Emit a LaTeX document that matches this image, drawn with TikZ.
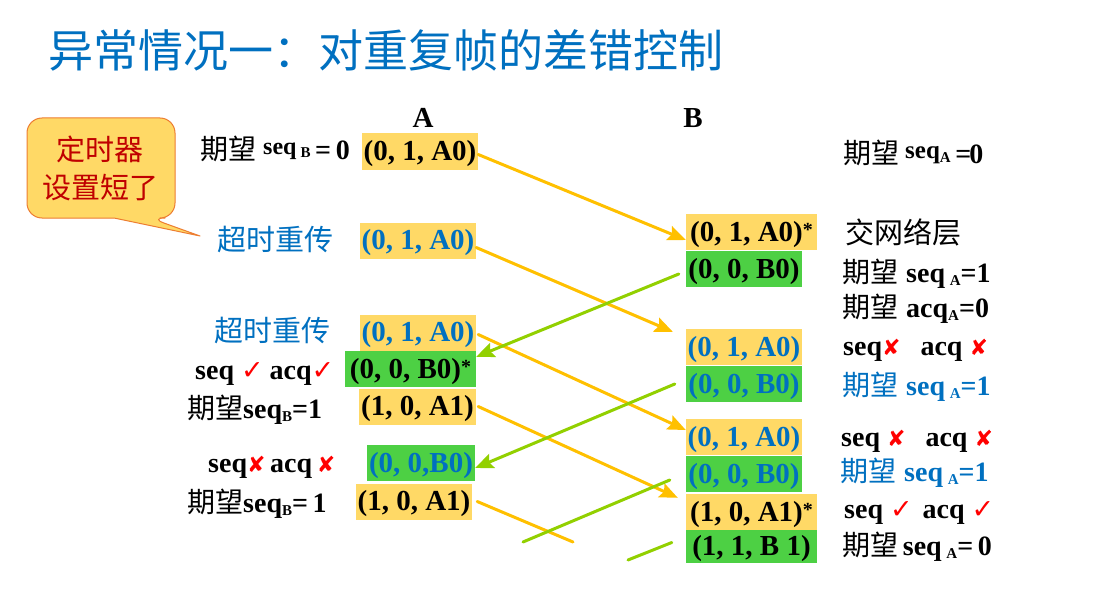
\documentclass[tikz,border=0pt]{standalone}
\usepackage{fontspec}
\setmainfont{Liberation Serif}
\newfontfamily\cjk{Noto Sans CJK SC}
\newfontfamily\sym{DejaVu Sans}
\usetikzlibrary{arrows.meta}
\definecolor{frameyel}{RGB}{255,217,102}
\definecolor{framegrn}{RGB}{77,208,68}
\definecolor{arryel}{RGB}{255,192,0}
\definecolor{arrgrn}{RGB}{146,208,0}
\definecolor{txtblue}{RGB}{0,112,192}
\definecolor{tickred}{RGB}{255,0,0}
\definecolor{noteborder}{RGB}{237,125,49}
\definecolor{notetext}{RGB}{192,0,0}
\newcommand{\qw}{{\cjk\mdseries\fontsize{28}{28}\selectfont 期望}}
\newcommand{\subl}[1]{\raisebox{-0.3ex}{\fontsize{15}{15}\selectfont #1}}
\newcommand{\okmark}{{\sym\mdseries\fontsize{27}{27}\selectfont\color{tickred}✓}}
\newcommand{\nomark}{{\sym\mdseries\fontsize{22}{22}\selectfont\color{tickred}✘}}
\newcommand{\astr}{\raisebox{0.15em}{\fontsize{20}{20}\selectfont *}}
\tikzset{
  frm/.style={inner sep=1pt, text height=26pt, text depth=8pt, minimum width=116pt, font=\fontsize{29}{29}\selectfont\bfseries},
  frmA/.style={frm, fill=frameyel},
  frmB/.style={frm, fill=framegrn},
  lbl/.style={anchor=west, inner sep=0pt, text height=20pt, text depth=0pt, font=\fontsize{28}{28}\selectfont\bfseries},
  cjklbl/.style={anchor=west, inner sep=0pt, text height=21pt, text depth=0pt, font=\cjk\fontsize{29}{29}\selectfont},
  msgA/.style={->, arryel, line width=3pt},
  msgB/.style={->, arrgrn, line width=3pt}
}
\begin{document}
\begin{tikzpicture}[x=1pt,y=-1pt,line cap=round,line join=round,>={Stealth[length=18pt,width=15pt,inset=3pt]}]
  \fill[white] (0,0) rectangle (1100,591);
  \useasboundingbox (0,0) rectangle (1100,591);
  % title
  \node[anchor=west, inner sep=0pt, text=txtblue, font=\cjk\fontsize{45}{45}\selectfont] (title) at (48,50) {异常情况一：对重复帧的差错控制};
  % stations
  \node[font=\fontsize{29}{29}\selectfont\bfseries] (stA) at (423,118) {A};
  \node[font=\fontsize{29}{29}\selectfont\bfseries] (stB) at (693,118) {B};
  % callout
  \draw[fill=frameyel, draw=noteborder, line width=1pt] (27,168) [rounded corners=15pt] |- (175,118) [rounded corners=15pt] |- (150,218) [sharp corners] -- (200,236) -- (114,218) [rounded corners=15pt] -| cycle;
  \node[align=center, text=notetext, font=\cjk\fontsize{29}{38}\selectfont] (note) at (100,168) {定时器\\设置短了};
  % frames at A
  \node[frmA] (a1) at (420,151.5) {(0, 1, A0)};
  \node[frmA, text=txtblue] (a2) at (418,240.5) {(0, 1, A0)};
  \node[frmA, text=txtblue] (a3) at (418,332.5) {(0, 1, A0)};
  \node[frmB, minimum width=131pt] (a4) at (410.5,369) {(0, 0, B0)\astr};
  \node[frmA, minimum width=117pt] (a5) at (417.5,406.5) {(1, 0, A1)};
  \node[frmB, text=txtblue, minimum width=108pt] (a6) at (421,463) {(0, 0,B0)};
  \node[frmA] (a7) at (414,501.5) {(1, 0, A1)};
  % frames at B
  \node[frmA, minimum width=131pt] (b1) at (751.5,232) {(0, 1, A0)\astr};
  \node[frmB] (b2) at (744,269) {(0, 0, B0)};
  \node[frmA, text=txtblue] (b3) at (744,347) {(0, 1, A0)};
  \node[frmB, text=txtblue] (b4) at (744,384) {(0, 0, B0)};
  \node[frmA, text=txtblue] (b5) at (744,437) {(0, 1, A0)};
  \node[frmB, text=txtblue] (b6) at (744,474) {(0, 0, B0)};
  \node[frmA, minimum width=131pt] (b7) at (751.5,512) {(1, 0, A1)\astr};
  \node[frmB, minimum width=131pt, text height=24pt, text depth=7pt] (b8) at (751.5,546.5) {(1, 1, B 1)};
  % labels at A
  \node[lbl] (la1) at (200,150) {\qw\hspace{7pt}\raisebox{0.2em}{\fontsize{24}{24}\selectfont seq\,\subl{B}}\,=\,0};
  \node[cjklbl, text=txtblue] (la2) at (217,240) {超时重传};
  \node[cjklbl, text=txtblue] (la3) at (214,331) {超时重传};
  \node[lbl] (la4) at (195,369) {seq \okmark\hspace{6pt}acq\okmark};
  \node[lbl] (la5) at (187,408) {\qw seq\subl{B}=1};
  \node[lbl] (la6) at (208,462) {seq\nomark\,acq\,\nomark};
  \node[lbl] (la7) at (187,502) {\qw seq\subl{B}=\,1};
  % labels at B
  \node[lbl] (lb1) at (843,153) {\qw\hspace{6pt}\raisebox{0.15em}{\fontsize{25}{25}\selectfont seq\subl{A}}\,=\kern-2pt0};
  \node[cjklbl] (lb2) at (845,233) {交网络层};
  \node[lbl] (lb3) at (842,272) {\qw\hspace{8pt}seq\,\subl{A}=1};
  \node[lbl] (lb4) at (842,307) {\qw\hspace{8pt}acq\subl{A}=0};
  \node[lbl] (lb5) at (843,345) {seq\nomark\hspace{20pt}acq \nomark};
  \node[lbl, text=txtblue] (lb6) at (842,385) {{\color{txtblue}\qw}\hspace{8pt}seq\,\subl{A}=1};
  \node[lbl] (lb7) at (841,436) {seq \nomark\hspace{20pt}acq \nomark};
  \node[lbl, text=txtblue] (lb8) at (840,471) {{\color{txtblue}\qw}\hspace{8pt}seq\,\subl{A}=1};
  \node[lbl] (lb9) at (844,508) {seq \okmark\hspace{10pt}acq \okmark};
  \node[lbl] (lb10) at (842,545) {\qw\,seq\,\subl{A}=\,0};
  % loose ends
  \coordinate (ya) at (573,542);
  \coordinate (ga) at (523,542);
  \coordinate (gb) at (628,560);
  % frames A -> B
  \draw[msgA] ([yshift=-3pt]a1.east) -- ([yshift=-8pt]b1.west);
  \draw[msgA] ([yshift=-7pt]a2.east) -- ([shift={(-13pt,-3pt)}]b3.north west);
  \draw[msgA] ([xshift=2pt,yshift=-2pt]a3.east) -- ([yshift=7pt]b5.west);
  \draw[msgA] ([xshift=2pt]a5.east) -- ([shift={(-8pt,-4pt)}]b7.north west);
  \draw[arryel, line width=3pt] ([xshift=5pt]a7.east) -- (ya);
  % frames B -> A
  \draw[msgB] ([shift={(-7pt,-5pt)}]b2.west) -- ([yshift=-6pt]a4.north east);
  \draw[msgB] ([xshift=-11pt]b4.west) -- ([yshift=-5pt]a6.east);
  \draw[arrgrn, line width=3pt] ([shift={(-16pt,-6pt)}]b6.west) -- (ga);
  \draw[arrgrn, line width=3pt] ([shift={(-14pt,4pt)}]b8.west) -- (gb);
\end{tikzpicture}
\end{document}
